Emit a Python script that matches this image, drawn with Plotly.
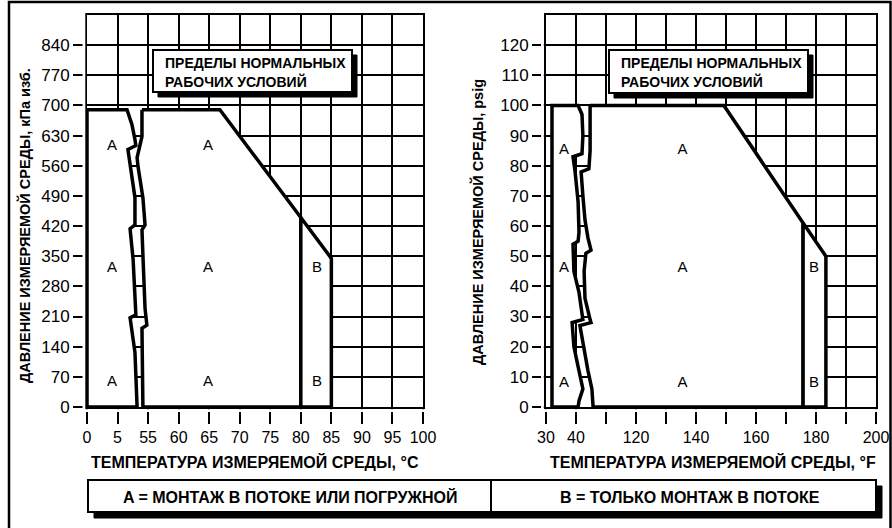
import plotly.graph_objects as go

# ---------------- data (axis units: x = grid position index, y = pressure) -------------
C_TICK_TEXT = ['0', '5', '55', '60', '65', '70', '75', '80', '85', '90', '95', '100']
F_TICK_TEXT = ['30', '40', '', '120', '', '140', '', '160', '', '180', '', '200']
KPA_TICKS = [0, 70, 140, 210, 280, 350, 420, 490, 560, 630, 700, 770, 840]
PSI_TICKS = [0, 10, 20, 30, 40, 50, 60, 70, 80, 90, 100, 110, 120]

# °C chart
C_OUTER_X = 0.0
C_TOP_KPA = 690
C_LEFT_WAVE_X = [1.31, 1.47, 1.57, 1.60, 1.34, 1.41, 1.57, 1.57, 1.41, 1.51, 1.57, 1.60, 1.41, 1.57, 1.64]
C_LEFT_WAVE_P = [690, 656, 621, 607, 598, 563, 486, 423, 414, 342, 237, 214, 207, 127, 0]
C_MID_WAVE_X = [1.80, 1.80, 1.64, 1.67, 1.83, 1.90, 1.80, 1.83, 1.90, 1.96, 1.80, 1.83]
C_MID_WAVE_P = [690, 628, 579, 558, 486, 423, 411, 353, 229, 190, 183, 0]
C_DIAG_X = [4.35, 7.0, 8.0]
C_DIAG_P = [690, 440, 345]
C_LABEL_X = [0.82, 3.96, 0.82, 3.96, 7.53, 0.82, 3.96, 7.53]
C_LABEL_P = [605, 605, 323, 323, 323, 58, 58, 58]
C_LABEL_T = ['A', 'A', 'A', 'A', 'B', 'A', 'A', 'B']

# °F chart
F_OUTER_X = 0.2
F_TOP_PSI = 100
F_LEFT_WAVE_X = [1.07, 1.20, 1.23, 1.20, 0.90, 0.97, 1.07, 1.10, 1.07, 0.90, 0.93, 1.10, 1.20, 1.23, 0.87, 0.93, 1.10, 1.23, 1.10, 1.07]
F_LEFT_WAVE_P = [100, 97, 90, 84, 83, 78, 68, 58, 55, 54, 45, 38, 31, 29, 28, 20, 12, 6, 2, 0]
F_MID_WAVE_X = [1.47, 1.47, 1.43, 1.17, 1.23, 1.30, 1.40, 1.50, 1.33, 1.27, 1.30, 1.47, 1.50, 1.13, 1.23, 1.40, 1.53, 1.57]
F_MID_WAVE_P = [100, 85, 79, 78, 70, 62, 56, 52, 51, 45, 36, 29, 28, 27, 22, 12, 6, 0]
F_DIAG_X = [5.93, 8.57, 9.33]
F_DIAG_P = [100, 61, 50]
F_LABEL_X = [0.6, 4.55, 0.6, 4.55, 8.93, 0.6, 4.55, 8.93]
F_LABEL_P = [85, 85, 46, 46, 46, 8, 8, 8]
F_LABEL_T = ['A', 'A', 'A', 'A', 'B', 'A', 'A', 'B']

TITLE_C = 'ТЕМПЕРАТУРА ИЗМЕРЯЕМОЙ СРЕДЫ, °C'
TITLE_F = 'ТЕМПЕРАТУРА ИЗМЕРЯЕМОЙ СРЕДЫ, °F'
YTITLE_C = 'ДАВЛЕНИЕ ИЗМЕРЯЕМОЙ СРЕДЫ, кПа изб.'
YTITLE_F = 'ДАВЛЕНИЕ ИЗМЕРЯЕМОЙ СРЕДЫ, psig'
BOX_TEXT = ['ПРЕДЕЛЫ НОРМАЛЬНЫХ', 'РАБОЧИХ УСЛОВИЙ']
LEGEND_A = 'A = МОНТАЖ В ПОТОКЕ ИЛИ ПОГРУЖНОЙ'
LEGEND_B = 'B = ТОЛЬКО МОНТАЖ В ПОТОКЕ'

# ---------------- layout helpers -------------
W, H = 892, 528
FONT = 'Liberation Sans, Arial, sans-serif'


def px(x):
    return x / W


def py(y):
    return 1 - y / H


fig = go.Figure()
LINE = dict(color='black', width=3.5)


def add_regions(xa, ya, outer_x, top, lx, lp, mx, mp, dx, dp, tx, tp, tt):
    # left region (A)
    fig.add_trace(go.Scatter(
        x=[outer_x, outer_x] + lx + [outer_x], y=[0, top] + lp + [0],
        mode='lines', fill='toself', fillcolor='white', line=LINE,
        xaxis=xa, yaxis=ya, hoverinfo='skip'))
    # middle region (A)
    fig.add_trace(go.Scatter(
        x=[mx[0], dx[0], dx[1], dx[1]] + mx[::-1],
        y=[mp[0], dp[0], dp[1], 0] + mp[::-1],
        mode='lines', fill='toself', fillcolor='white', line=LINE,
        xaxis=xa, yaxis=ya, hoverinfo='skip'))
    # region B
    fig.add_trace(go.Scatter(
        x=[dx[1], dx[2], dx[2], dx[1], dx[1]], y=[dp[1], dp[2], 0, 0, dp[1]],
        mode='lines', fill='toself', fillcolor='white', line=LINE,
        xaxis=xa, yaxis=ya, hoverinfo='skip'))
    fig.add_trace(go.Scatter(
        x=tx, y=tp, text=tt, mode='text',
        textfont=dict(family=FONT, size=15, color='black'),
        xaxis=xa, yaxis=ya, hoverinfo='skip'))


add_regions('x', 'y', C_OUTER_X, C_TOP_KPA, C_LEFT_WAVE_X, C_LEFT_WAVE_P,
            C_MID_WAVE_X, C_MID_WAVE_P, C_DIAG_X, C_DIAG_P, C_LABEL_X, C_LABEL_P, C_LABEL_T)
add_regions('x2', 'y2', F_OUTER_X, F_TOP_PSI, F_LEFT_WAVE_X, F_LEFT_WAVE_P,
            F_MID_WAVE_X, F_MID_WAVE_P, F_DIAG_X, F_DIAG_P, F_LABEL_X, F_LABEL_P, F_LABEL_T)

ydom = [py(407), py(15)]
common_x = dict(range=[0, 11], tickvals=list(range(12)), ticks='outside', ticklen=15,
                tickwidth=2, tickcolor='black', showgrid=True, gridcolor='black',
                gridwidth=1.6, showline=True, linecolor='black', linewidth=2, mirror=True,
                zeroline=False, tickfont=dict(family=FONT, size=16, color='black'),
                fixedrange=True, automargin=False)
common_y = dict(ticks='outside', ticklen=12, tickwidth=2, tickcolor='black',
                showgrid=True, gridcolor='black', gridwidth=1.6, showline=True,
                linecolor='black', linewidth=2, mirror=True, zeroline=False,
                tickfont=dict(family=FONT, size=17, color='black'), fixedrange=True,
                automargin=False)

fig.update_layout(
    width=W, height=H, margin=dict(l=0, r=0, t=0, b=0, pad=0, autoexpand=False),
    paper_bgcolor='white', plot_bgcolor='white', showlegend=False,
    xaxis=dict(domain=[px(87), px(423)], ticktext=C_TICK_TEXT, anchor='y', **common_x),
    yaxis=dict(domain=ydom, range=[0, 910], tickvals=KPA_TICKS, anchor='x', **common_y),
    xaxis2=dict(domain=[px(546), px(876)], ticktext=F_TICK_TEXT, anchor='y2', **common_x),
    yaxis2=dict(domain=ydom, range=[0, 130], tickvals=PSI_TICKS, anchor='x2', **common_y),
)

shapes = []
# outer frame
shapes.append(dict(type='rect', xref='paper', yref='paper', x0=px(9), x1=px(890.5),
                   y0=py(545), y1=py(2), line=dict(color='black', width=2.5)))
# gaps between ticks and axes
for (l, r) in [(80, 430), (540, 882)]:
    shapes.append(dict(type='rect', xref='paper', yref='paper', x0=px(l), x1=px(r),
                       y0=py(412), y1=py(409.3), fillcolor='white', line=dict(width=0),
                       layer='above'))
for xl in [82.5, 541]:
    shapes.append(dict(type='rect', xref='paper', yref='paper', x0=px(xl), x1=px(xl + 2.8),
                       y0=py(412), y1=py(10), fillcolor='white', line=dict(width=0),
                       layer='above'))


def shadow_box(x0, y0, x1, y1, off):
    shapes.append(dict(type='rect', xref='paper', yref='paper', x0=px(x0 + off),
                       x1=px(x1 + off), y0=py(y1 + off), y1=py(y0 + off),
                       fillcolor='black', line=dict(color='black', width=1), layer='above'))
    shapes.append(dict(type='rect', xref='paper', yref='paper', x0=px(x0), x1=px(x1),
                       y0=py(y1), y1=py(y0), fillcolor='white',
                       line=dict(color='black', width=2), layer='above'))


shadow_box(153, 50, 352, 92, 5)
shadow_box(609, 50, 808, 93, 5)
shadow_box(88, 480, 876, 512, 6)
shapes.append(dict(type='line', xref='paper', yref='paper', x0=px(491), x1=px(491),
                   y0=py(512), y1=py(480), line=dict(color='black', width=2), layer='above'))
fig.update_layout(shapes=shapes)

ann = []
TF = dict(family=FONT, size=16, color='black')
TFY = dict(family=FONT, size=14.5, color='black')
for x0 in [163, 619]:
    for i, t in enumerate(BOX_TEXT):
        ann.append(dict(xref='paper', yref='paper', x=px(x0), y=py(63 + 19 * i), text='<b>%s</b>' % t,
                        showarrow=False, xanchor='left', yanchor='middle',
                        font=dict(family=FONT, size=14, color='black')))
ann.append(dict(xref='paper', yref='paper', x=px(255), y=py(462), text='<b>%s</b>' % TITLE_C,
                showarrow=False, xanchor='center', yanchor='middle', font=TF))
ann.append(dict(xref='paper', yref='paper', x=px(713), y=py(462), text='<b>%s</b>' % TITLE_F,
                showarrow=False, xanchor='center', yanchor='middle', font=TF))
ann.append(dict(xref='paper', yref='paper', x=px(25), y=py(226), text='<b>%s</b>' % YTITLE_C,
                showarrow=False, textangle=-90, xanchor='center', yanchor='middle', font=TFY))
ann.append(dict(xref='paper', yref='paper', x=px(478), y=py(222), text='<b>%s</b>' % YTITLE_F,
                showarrow=False, textangle=-90, xanchor='center', yanchor='middle', font=TFY))
ann.append(dict(xref='paper', yref='paper', x=px(290), y=py(497), text='<b>%s</b>' % LEGEND_A,
                showarrow=False, xanchor='center', yanchor='middle', font=TF))
ann.append(dict(xref='paper', yref='paper', x=px(690), y=py(497), text='<b>%s</b>' % LEGEND_B,
                showarrow=False, xanchor='center', yanchor='middle', font=TF))
fig.update_layout(annotations=ann)

fig.write_html('out.html', config={'displayModeBar': False},
               post_script="document.body.style.margin='0';document.body.style.overflow='hidden';")
